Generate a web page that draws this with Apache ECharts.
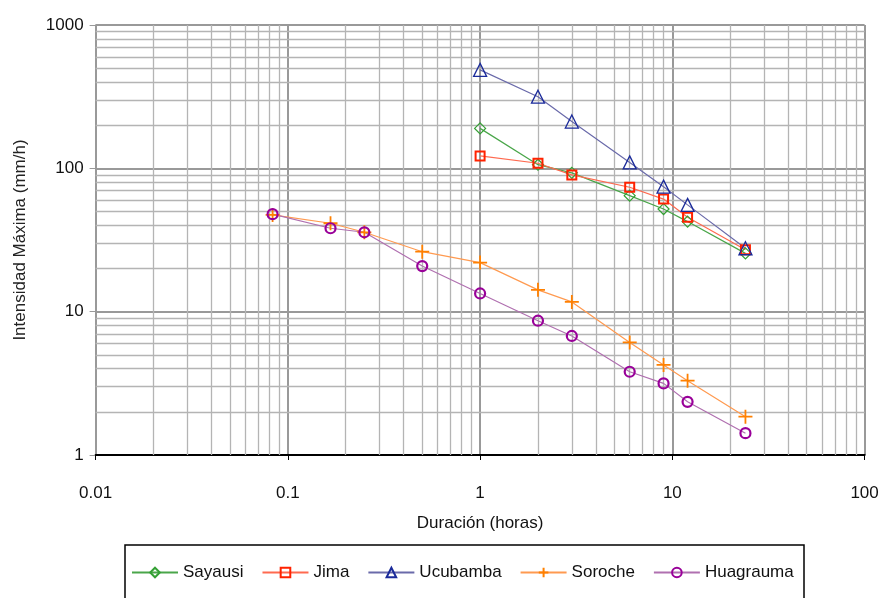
<!DOCTYPE html>
<html>
<head>
<meta charset="utf-8">
<script src="https://cdn.jsdelivr.net/npm/echarts@6/dist/echarts.min.js"></script>
<style>html,body{margin:0;padding:0;background:#fff}#c{width:882px;height:598px}</style>
</head>
<body>
<div id="c"></div>
<script>
const durations = [0.0833, 0.1667, 0.25, 0.5, 1, 2, 3, 6, 9, 12, 24];
const durLong = [1, 2, 3, 6, 9, 12, 24];
const sayausi = [190, 106, 93, 64.5, 52, 42.5, 25.5];
const jima = [122, 108.5, 90, 73.8, 61, 45.6, 27];
const ucubamba = [486, 316, 212, 110, 74.5, 55.6, 27.7];
const soroche = [47.3, 41.4, 35.8, 26.2, 22, 14.2, 11.7, 6.1, 4.25, 3.3, 1.85];
const huagrauma = [47.9, 38.2, 35.8, 20.8, 13.4, 8.65, 6.77, 3.81, 3.16, 2.35, 1.42];
const xTicks = [0.01, 0.1, 1, 10, 100];
const yTicks = [1, 10, 100, 1000];

const font = 'Liberation Sans, Arial, sans-serif';
function pairs(xs, ys){ return xs.map((x,i)=>[x, ys[i]]); }

const minorX = [], minorY = [];
for (let e = -2; e < 2; e++) for (let m = 2; m <= 9; m++) minorX.push({xAxis: +(m*Math.pow(10,e)).toPrecision(3)});
for (let e = 0; e < 3; e++) for (let m = 2; m <= 9; m++) minorY.push({yAxis: m*Math.pow(10,e)});

function mk(name, xs, ys, lineColor, markColor, symbol, size, bw){
  return {
    name, type:'line', data: pairs(xs, ys), symbol, symbolSize: size, z: 5,
    lineStyle:{color: lineColor, width: 1.2},
    itemStyle:{color: 'rgba(255,255,255,0)', borderColor: markColor, borderWidth: bw},
    emphasis:{disabled:true}, animation:false
  };
}

const chart = echarts.init(document.getElementById('c'), null, {renderer:'canvas'});
chart.setOption({
  animation:false,
  textStyle:{fontFamily: font},
  grid:{left:95.6, right:17.4, top:25, bottom:143, containLabel:false},
  xAxis:{
    type:'log', logBase:10, min:0.01, max:100,
    name:'Duración (horas)', nameLocation:'middle', nameGap:60,
    nameTextStyle:{fontSize:17, color:'#111', fontFamily:font},
    axisLine:{show:true, lineStyle:{color:'#000', width:2}},
    axisTick:{show:true, length:5, lineStyle:{color:'#000'}},
    axisLabel:{fontSize:17, color:'#111', margin:30, fontFamily:font,
      formatter: v => { const t = xTicks.find(k => Math.abs(k-v)/k < 1e-6); return t===undefined ? '' : String(t); }},
    splitLine:{show:true, lineStyle:{color:'#999', width:2}}
  },
  yAxis:{
    type:'log', logBase:10, min:1, max:1000,
    name:'Intensidad Máxima (mm/h)', nameLocation:'middle', nameGap:67,
    nameTextStyle:{fontSize:17, color:'#222', fontFamily:font},
    axisLine:{show:true, onZero:false, lineStyle:{color:'#999', width:1}},
    axisTick:{show:true, length:6, lineStyle:{color:'#999'}},
    axisLabel:{fontSize:17, color:'#111', margin:12, fontFamily:font,
      formatter: v => { const t = yTicks.find(k => Math.abs(k-v)/k < 1e-6); return t===undefined ? '' : String(t); }},
    splitLine:{show:true, lineStyle:{color:'#999', width:2}}
  },
  legend:{
    left:126, top:559, itemWidth:46, itemHeight:12, itemGap:18,
    textStyle:{fontSize:17, color:'#111', fontFamily:font},
    data:['Sayausi','Jima','Ucubamba','Soroche','Huagrauma']
  },
  graphic:[{type:'rect', shape:{x:125, y:545, width:679, height:70}, style:{fill:'none', stroke:'#000', lineWidth:1.5}, silent:true}],
  series:[
    {name:'grid', type:'line', data:[[1,1]], symbol:'none', lineStyle:{opacity:0}, z:1, silent:true,
      markLine:{silent:true, symbol:'none', label:{show:false}, animation:false,
        lineStyle:{color:'#b4b4b4', width:1.3, type:'solid'}, emphasis:{disabled:true},
        data: minorX.concat(minorY)}},
    mk('Sayausi', durLong, sayausi, '#4aa64a', '#33a033', 'diamond', 11, 1.2),
    mk('Jima', durLong, jima, '#ff6a50', '#ff2200', 'rect', 9, 2),
    mk('Ucubamba', durLong, ucubamba, '#6a6aaa', '#1a2a9a', 'triangle', 13, 1.3),
    mk('Soroche', durations, soroche, '#ff9a50', '#ff8000', 'path://M5,0L5,10M0,5L10,5', 14, 1.8),
    mk('Huagrauma', durations, huagrauma, '#b070b0', '#990099', 'circle', 10, 2.2)
  ]
});
</script>
</body>
</html>
